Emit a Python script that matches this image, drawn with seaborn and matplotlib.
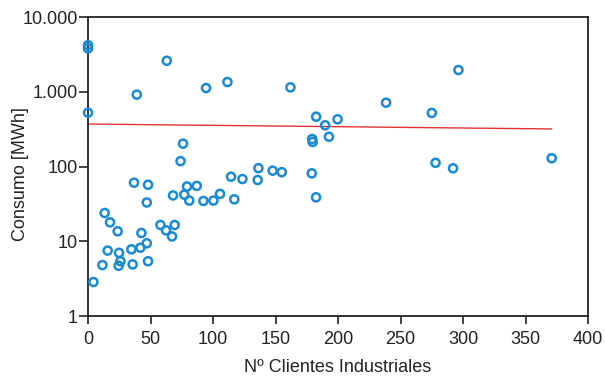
import numpy as np
import pandas as pd
import matplotlib
matplotlib.use("Agg")
import matplotlib.pyplot as plt
import matplotlib.ticker as mticker
import seaborn as sns

# Valores (x = nº clientes industriales, y = consumo MWh)
clientes = [0, 0, 0, 4.3, 11.5, 13.3, 15.7, 17.6, 23.7, 24.5, 24.8, 25.9,
            34.7, 35.7, 36.8, 39, 41.9, 42.7, 47, 47, 48, 48,
            57.9, 62.4, 63, 67.2, 68, 69.3, 74, 76, 77, 79.2, 81, 87,
            92.3, 94.4, 100.3, 105.6, 111.5, 114.4, 117, 123.5,
            135.7, 136.3, 147.7, 155, 161.9, 179, 179.3, 179.7, 182.4,
            182.5, 189.7, 192.7, 199.6, 238.4, 275, 278, 292, 296.3, 370.9]
consumo = [4200, 3800, 525, 2.85, 4.8, 23.9, 7.5, 17.9, 13.6, 4.7, 7.0, 5.4,
           7.8, 4.9, 60.7, 915, 8.2, 12.9, 9.4, 33, 57, 5.4,
           16.5, 14.0, 2600, 11.6, 41, 16.5, 118, 202, 42, 54, 35, 55,
           34.6, 1122, 35, 43, 1350, 73, 36.4, 68,
           66, 95, 88, 84, 1145, 81, 233, 213, 38.7,
           464, 356, 250, 428, 714, 520, 112, 94.6, 1955, 129]

# linea de tendencia (extremos)
tend_x = [0, 371]
tend_y = [370, 318]

df = pd.DataFrame({"clientes": clientes, "consumo": consumo})
tend = pd.DataFrame({"x": tend_x, "y": tend_y})

sns.set_style("ticks")
plt.rcParams["font.family"] = ["Liberation Sans", "DejaVu Sans"]

fig = plt.figure(figsize=(6.05, 3.78), dpi=100)
ax = fig.add_axes([0.1455, 0.164, 0.8265, 0.791])

sns.scatterplot(data=df, x="clientes", y="consumo", ax=ax, marker="o",
                facecolors="none", edgecolor="#1a8ad4", linewidth=1.8, s=34,
                zorder=3, clip_on=False)
sns.lineplot(data=tend, x="x", y="y", ax=ax, color="#e03232", linewidth=1.0,
             zorder=2)

ax.set_yscale("log")
ax.set_xlim(0, 400)
ax.set_ylim(1, 10000)
ax.set_xticks(np.arange(0, 401, 50))
ax.set_yticks([1, 10, 100, 1000, 10000])
ax.yaxis.set_minor_locator(mticker.NullLocator())
ax.yaxis.set_major_formatter(
    mticker.FuncFormatter(lambda v, p: f"{int(round(v)):,}".replace(",", ".")))

ax.tick_params(axis="x", direction="out", length=6, width=1.2, pad=5)
ax.tick_params(axis="y", direction="out", length=6.5, width=1.2, pad=1)
ax.tick_params(axis="both", labelsize=13, color="#222222", labelcolor="#222222")
for s in ax.spines.values():
    s.set_linewidth(1.3)
    s.set_color("#222222")

ax.set_xlabel("Nº Clientes Industriales", fontsize=13, color="#222222", va="top")
ax.set_ylabel("Consumo [MWh]", fontsize=13, color="#222222")
ax.xaxis.set_label_coords(0.5, -0.143)
ax.yaxis.set_label_coords(-0.118, 0.475)

fig.savefig("out.png", dpi=100)
